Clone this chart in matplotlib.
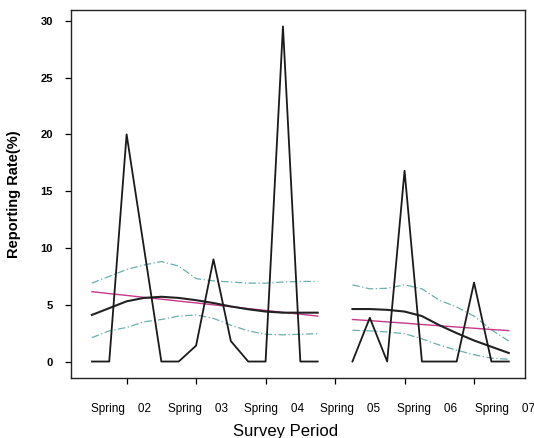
import matplotlib.pyplot as plt
import numpy as np

plt.rcParams['font.family'] = ['Liberation Sans', 'DejaVu Sans']

# survey quarters (decimal years), two survey blocks with a gap between
x_a = [2001.5, 2001.75, 2002.0, 2002.25, 2002.5, 2002.75, 2003.0,
       2003.25, 2003.5, 2003.75, 2004.0, 2004.25, 2004.5, 2004.75]
x_b = [2005.25, 2005.5, 2005.75, 2006.0, 2006.25, 2006.5, 2006.75,
       2007.0, 2007.25, 2007.5]

# observed reporting rate (%)
rate_a = [0, 0, 20, 10, 0, 0, 1.4, 9.0, 1.8, 0, 0, 29.5, 0, 0]
rate_b = [0, 3.85, 0, 16.8, 0, 0, 0, 6.95, 0, 0]

# smoothed trend
smooth_a = [4.1, 4.7, 5.3, 5.6, 5.7, 5.6, 5.4, 5.15, 4.85, 4.6, 4.4, 4.3, 4.3, 4.3]
smooth_b = [4.62, 4.62, 4.55, 4.4, 4.0, 3.2, 2.5, 1.85, 1.3, 0.75]

# linear trend
linear_a = [6.15, 5.98, 5.82, 5.65, 5.49, 5.32, 5.16, 4.99, 4.83, 4.66, 4.5, 4.33, 4.17, 4.0]
linear_b = [3.7, 3.6, 3.49, 3.38, 3.26, 3.15, 3.04, 2.93, 2.82, 2.72]

# confidence band for smooth
upper_a = [6.9, 7.5, 8.1, 8.5, 8.8, 8.4, 7.3, 7.1, 7.0, 6.9, 6.9, 7.0, 7.05, 7.05]
lower_a = [2.1, 2.7, 3.0, 3.5, 3.7, 4.0, 4.1, 3.8, 3.2, 2.7, 2.4, 2.35, 2.4, 2.45]
upper_b = [6.75, 6.4, 6.45, 6.75, 6.4, 5.4, 4.8, 4.0, 2.8, 1.8]
lower_b = [2.75, 2.7, 2.6, 2.45, 2.0, 1.45, 1.0, 0.6, 0.3, 0.2]

tick_years = [2002, 2003, 2004, 2005, 2006, 2007]
label_pos = [2001.92, 2003.03, 2004.12, 2005.22, 2006.33, 2007.44]
tick_labels = ['Spring    02', 'Spring    03', 'Spring    04',
               'Spring    05', 'Spring    06', 'Spring    07']
y_ticks = [0, 5, 10, 15, 20, 25, 30]

fig = plt.figure(figsize=(5.34, 4.38), dpi=100)
ax = fig.add_axes([0.133, 0.137, 0.851, 0.840])

band_col = '#6aaeb0'
for xs, up, lo in [(x_a, upper_a, lower_a), (x_b, upper_b, lower_b)]:
    ax.plot(xs, up, color=band_col, lw=0.9, ls=(0, (6, 2, 1, 2)))
    ax.plot(xs, lo, color=band_col, lw=0.9, ls=(0, (6, 2, 1, 2)))
for xs, lin in [(x_a, linear_a), (x_b, linear_b)]:
    ax.plot(xs, lin, color='#c8388a', lw=1.0)
for xs, sm in [(x_a, smooth_a), (x_b, smooth_b)]:
    ax.plot(xs, sm, color='#222222', lw=1.5)
for xs, r in [(x_a, rate_a), (x_b, rate_b)]:
    ax.plot(xs, r, color='#1a1a1a', lw=1.3)

ax.set_xlim(2001.2, 2007.74)
ax.set_ylim(-1.45, 30.94)

ax.set_xticks(tick_years)
ax.set_xticklabels([])
ax.set_xticks(label_pos, minor=True)
ax.set_xticklabels(tick_labels, minor=True, fontsize=8.5)
ax.tick_params(axis='x', which='major', length=4, width=0.9, direction='out')
ax.tick_params(axis='x', which='minor', length=0, pad=18)

ax.set_yticks(y_ticks)
ax.set_yticklabels([str(v) for v in y_ticks], fontsize=8, fontweight='bold')
ax.tick_params(axis='y', length=4, width=0.9, pad=9)

for s in ax.spines.values():
    s.set_linewidth(1.0)
    s.set_color('#222222')

ax.set_xlabel('Survey Period', fontsize=12)
ax.xaxis.set_label_coords(0.472, -0.126)
ax.set_ylabel('Reporting Rate(%)', fontsize=10.5, fontweight='bold')
ax.yaxis.set_label_coords(-0.109, 0.5)

fig.savefig('out.png', dpi=100)
